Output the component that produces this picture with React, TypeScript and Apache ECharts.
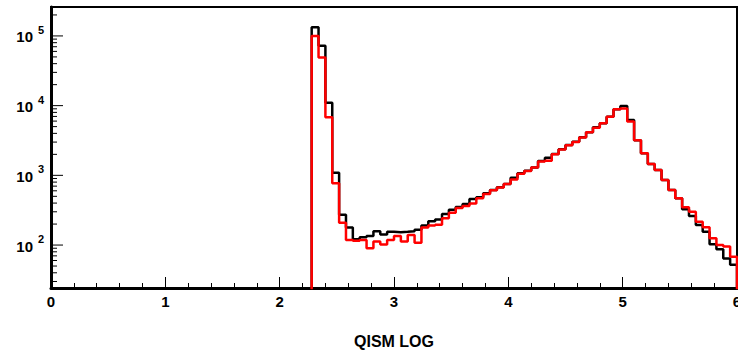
import React, { useEffect, useRef } from "react";
import * as echarts from "echarts";

// Histogram binning: 100 bins over [0, 6]; filled bins start at 2.28
const binStart = 2.28;
const binWidth = 0.06;

// Black histogram (counts per bin, bins 38..99)
const blackCounts = [
  133000, 72000, 11000, 1090, 272, 178, 121, 129, 135, 158,
  142, 155, 153, 155, 158, 166, 190, 220, 232, 280,
  320, 350, 387, 457, 483, 552, 616, 673, 750, 924,
  1070, 1165, 1300, 1600, 1790, 2020, 2360, 2720, 3030, 3510,
  4140, 4890, 5570, 6900, 8900, 9860, 6200, 3200, 2070, 1450,
  1190, 857, 616, 468, 325, 261, 194, 155, 103, 87,
  64, 52,
];

// Red histogram (counts per bin, bins 38..99)
const redCounts = [
  100000, 49000, 6800, 767, 209, 118, 115, 118, 90, 112,
  102, 118, 135, 112, 139, 108, 178, 190, 195, 242,
  290, 340, 363, 396, 470, 540, 610, 670, 750, 874,
  1050, 1150, 1300, 1580, 1620, 2000, 2350, 2700, 3000, 3500,
  4140, 4800, 5570, 6900, 8850, 9100, 5900, 3200, 2070, 1450,
  1190, 857, 616, 468, 348, 300, 216, 180, 125, 100,
  95, 68,
];

const xTickLabels = ["0", "1", "2", "3", "4", "5", "6"];
const yDecades = [2, 3, 4, 5];
const yMin = 24.2;
const yMax = 260000;
const xTitle = "QISM LOG";

const FONT = "'Liberation Sans', Arial, Helvetica, sans-serif";

function stepData(counts: number[]) {
  const pts: number[][] = [[binStart, 1]];
  counts.forEach((c, i) => {
    pts.push([+(binStart + i * binWidth).toFixed(4), c]);
  });
  const end = +(binStart + counts.length * binWidth).toFixed(4);
  pts.push([end, counts[counts.length - 1]]);
  pts.push([end, 1]);
  return pts;
}

function yTickValues() {
  const out: number[][] = [];
  for (let d = 1; d <= 5; d++) {
    for (let m = 1; m <= 9; m++) {
      const v = m * Math.pow(10, d);
      if (v >= yMin && v <= yMax) out.push([v, m === 1 ? 12 : 6, 0]);
    }
  }
  return out;
}

export default function App() {
  const ref = useRef<HTMLDivElement>(null);
  useEffect(() => {
    if (!ref.current) return;
    const chart = echarts.init(ref.current, null, { renderer: "svg" });
    chart.setOption({
      animation: false,
      backgroundColor: "#ffffff",
      grid: {
        left: 51,
        right: 1,
        top: 7,
        bottom: 63,
        containLabel: false,
        outerBoundsMode: "none",
        show: true,
        borderColor: "#000",
        borderWidth: 2,
        backgroundColor: "transparent",
      },
      xAxis: {
        type: "value",
        min: 0,
        max: 6,
        interval: 1,
        axisLine: { show: true, onZero: false, lineStyle: { color: "#000", width: 3 } },
        axisTick: { show: true, inside: true, length: 11, lineStyle: { color: "#000", width: 1 } },
        minorTick: { show: true, splitNumber: 5, length: 5, lineStyle: { color: "#000", width: 1 } },
        splitLine: { show: false },
        minorSplitLine: { show: false },
        axisLabel: {
          color: "#000",
          fontFamily: FONT,
          fontWeight: "bold",
          fontSize: 15,
          margin: 6,
          hideOverlap: false,
          showMinLabel: true,
          showMaxLabel: true,
          formatter: (v: number) => xTickLabels[Math.round(v)] ?? "",
        },
        name: xTitle,
        nameLocation: "middle",
        nameGap: 45,
        nameTextStyle: { color: "#000", fontFamily: FONT, fontWeight: "bold", fontSize: 16 },
      },
      yAxis: {
        type: "log",
        logBase: 10,
        min: yMin,
        max: yMax,
        axisLine: { show: true, lineStyle: { color: "#000", width: 3 } },
        axisTick: { show: false },
        minorTick: { show: false },
        splitLine: { show: false },
        axisLabel: { show: false },
      },
      series: [
        {
          type: "custom",
          silent: true,
          clip: false,
          encode: { x: 2, y: 0 },
          data: yTickValues(),
          renderItem: (params: any, api: any) => {
            const v = api.value(0);
            const len = api.value(1);
            const p = api.coord([0, v]);
            return {
              type: "line",
              shape: { x1: p[0], y1: p[1], x2: p[0] + len, y2: p[1] },
              style: { stroke: "#000", lineWidth: 1 },
            };
          },
        },
        {
          type: "custom",
          silent: true,
          clip: false,
          encode: { x: 2, y: 0 },
          data: yDecades.map((d) => [Math.pow(10, d), d, 0]),
          renderItem: (params: any, api: any) => {
            const v = api.value(0);
            const d = api.value(1);
            const p = api.coord([0, v]);
            return {
              type: "group",
              children: [
                {
                  type: "text",
                  x: p[0] - 18,
                  y: p[1] + 1,
                  style: {
                    text: "10",
                    fill: "#000",
                    font: `bold 15px ${FONT}`,
                    align: "right",
                    verticalAlign: "middle",
                  },
                },
                {
                  type: "text",
                  x: p[0] - 13,
                  y: p[1] - 6,
                  style: {
                    text: String(d),
                    fill: "#000",
                    font: `bold 11px ${FONT}`,
                    align: "left",
                    verticalAlign: "middle",
                  },
                },
              ],
            };
          },
        },
        {
          type: "line",
          name: "black",
          step: "end",
          symbol: "none",
          data: stepData(blackCounts),
          lineStyle: { color: "#000", width: 2.5 },
          clip: true,
        },
        {
          type: "line",
          name: "red",
          step: "end",
          symbol: "none",
          data: stepData(redCounts),
          lineStyle: { color: "#ff0000", width: 2.5 },
          clip: true,
        },
      ],
    });
    return () => chart.dispose();
  }, []);
  return (
    <div
      ref={ref}
      style={{ position: "fixed", left: 0, top: 0, width: 738, height: 351 }}
    />
  );
}
